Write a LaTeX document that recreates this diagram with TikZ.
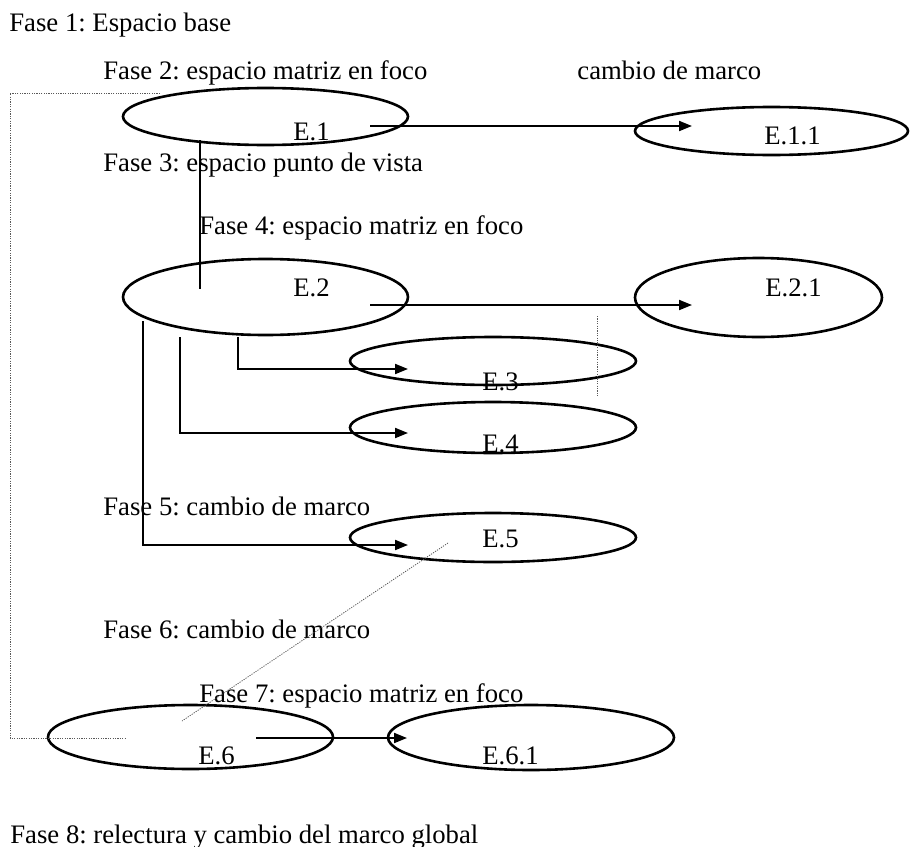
\documentclass[tikz,border=0pt]{standalone}
\usepackage{fontspec}
\setmainfont{Liberation Serif}
\usetikzlibrary{arrows.meta,shapes.geometric}
\frenchspacing
\tikzset{
  estado/.style={ellipse,draw,line width=1.3pt,inner sep=0pt,outer sep=0pt},
  fase/.style={anchor=base west,inner sep=0pt},
  tramo/.style={line width=1pt},
  flecha/.style={tramo,-{Triangle[length=6.5pt,width=5pt]}},
  punteado/.style={gray!70!black,line width=0.4pt,dash pattern=on 0.6pt off 0.6pt}
}

\begin{document}
\begin{tikzpicture}[x=0.5pt,y=-0.5pt,font=\fontsize{13.35}{16}\selectfont]
  \useasboundingbox (0,0) rectangle (910,846);
  % phase captions
  \node[fase] (f1) at (9,32)   {Fase 1: Espacio base};
  \node[fase] (f2) at (103,79) {Fase 2: espacio matriz en foco};
  \node[fase] (cm) at (577,79) {cambio de marco};
  \node[fase] (f3) at (103,171) {Fase 3: espacio punto de vista};
  \node[fase] (f4) at (199,234) {Fase 4: espacio matriz en foco};
  \node[fase] (f5) at (103,515) {Fase 5: cambio de marco};
  \node[fase] (f6) at (103,638) {Fase 6: cambio de marco};
  \node[fase] (f7) at (199,702) {Fase 7: espacio matriz en foco};
  \node[fase] (f8) at (10,843)  {Fase 8: relectura y cambio del marco global};
  % the spaces (radii in pt = half the size in px)
  \node[estado,minimum width=142.5pt,minimum height=28.5pt] (e1)  at (265.5,116.5) {};
  \node[estado,minimum width=136.5pt,minimum height=24pt]   (e11) at (771.5,131) {};
  \node[estado,minimum width=142.5pt,minimum height=38pt]   (e2)  at (265.5,297) {};
  \node[estado,minimum width=123.5pt,minimum height=39.5pt] (e21) at (758.5,297.5) {};
  \node[estado,minimum width=143pt,minimum height=24pt]     (e3)  at (493,361) {};
  \node[estado,minimum width=143pt,minimum height=25.5pt]   (e4)  at (493,427.5) {};
  \node[estado,minimum width=143pt,minimum height=24.5pt]   (e5)  at (493,537.5) {};
  \node[estado,minimum width=142.5pt,minimum height=32pt]   (e6)  at (190.5,737) {};
  \node[estado,minimum width=143pt,minimum height=32.5pt]   (e61) at (531,737.5) {};
  % their labels, set low and to the right
  \node[fase] (t1)  at (293,140) {E.1};
  \node[fase] (t11) at (764,144) {E.1.1};
  \node[fase] (t2)  at (293,296) {E.2};
  \node[fase] (t21) at (765,296) {E.2.1};
  \node[fase] (t3)  at (482,390) {E.3};
  \node[fase] (t4)  at (482,452) {E.4};
  \node[fase] (t5)  at (482,547) {E.5};
  \node[fase] (t6)  at (198,764) {E.6};
  \node[fase] (t61) at (482,764) {E.6.1};
  % connector ends
  \coordinate (s1) at (370,126);  \coordinate (d1) at (692,126);
  \coordinate (s2) at (370,305);  \coordinate (d2) at (692,305);
  \coordinate (v1) at (200,140);  \coordinate (v2) at (200,289);
  \coordinate (s3) at (238,337);  \coordinate (d3) at (408,369);
  \coordinate (s4) at (180,337);  \coordinate (d4) at (408,433);
  \coordinate (s5) at (143,321);  \coordinate (d5) at (408,545);
  \coordinate (s6) at (256,738);  \coordinate (d6) at (407,738);
  \draw[flecha] (s1) -- (d1);
  \draw[flecha] (s2) -- (d2);
  \draw[tramo]  (v1) -- (v2);
  \draw[flecha] (s3) |- (d3);
  \draw[flecha] (s4) |- (d4);
  \draw[flecha] (s5) |- (d5);
  \draw[flecha] (s6) -- (d6);
  % dotted guides
  \coordinate (p1) at (160,93);   \coordinate (p2) at (125,738);
  \coordinate (q1) at (597.5,316); \coordinate (q2) at (597.5,396);
  \coordinate (r1) at (448,543);  \coordinate (r2) at (182,721);
  \draw[punteado] (p1) -| (10,738) -- (p2);
  \draw[punteado] (q1) -- (q2);
  \draw[punteado] (r1) -- (r2);
\end{tikzpicture}
\end{document}
